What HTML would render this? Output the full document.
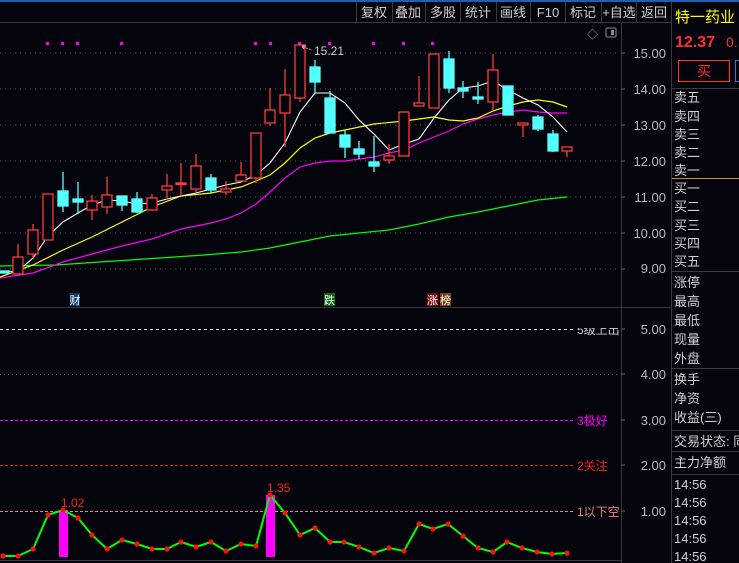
<!DOCTYPE html>
<html><head><meta charset="utf-8"><style>
html,body{margin:0;padding:0;background:#04040c;width:739px;height:563px;overflow:hidden}
svg{display:block}
text{font-family:"Liberation Sans","Noto Sans CJK SC",sans-serif}
</style></head><body>
<svg width="739" height="563" viewBox="0 0 739 563" xmlns="http://www.w3.org/2000/svg">
<rect width="739" height="563" fill="#04040c"/>
<rect x="0" y="0" width="739" height="2" fill="#1e5fb4"/>
<!-- toolbar -->
<g fill="none" stroke="#3a3a3a">
<line x1="0" y1="22.5" x2="672" y2="22.5"/>
<line x1="356.5" y1="2" x2="356.5" y2="22"/>
<line x1="392.5" y1="2" x2="392.5" y2="22"/><line x1="425.5" y1="2" x2="425.5" y2="22"/>
<line x1="460.5" y1="2" x2="460.5" y2="22"/><line x1="496.5" y1="2" x2="496.5" y2="22"/>
<line x1="530.5" y1="2" x2="530.5" y2="22"/><line x1="565.5" y1="2" x2="565.5" y2="22"/>
<line x1="601.5" y1="2" x2="601.5" y2="22"/><line x1="636.5" y1="2" x2="636.5" y2="22"/>
<line x1="671.5" y1="2" x2="671.5" y2="563"/>
<line x1="621.5" y1="22" x2="621.5" y2="563"/>
<line x1="0" y1="307.5" x2="672" y2="307.5"/>
<line x1="0" y1="560.5" x2="621" y2="560.5"/>
</g>
<g fill="#cfcfcf" font-size="13" text-anchor="middle">
<text x="374" y="17">复权</text><text x="408" y="17">叠加</text><text x="443" y="17">多股</text>
<text x="478" y="17">统计</text><text x="513" y="17">画线</text><text x="548" y="17">F10</text>
<text x="583" y="17">标记</text><text x="619" y="17">+自选</text><text x="654" y="17">返回</text>
</g>
<text x="587" y="38" fill="#aaa" font-size="11">◇</text>
<rect x="606" y="28" width="10" height="9" fill="none" stroke="#888" rx="1"/><rect x="611" y="30" width="3" height="5" fill="#888"/>
<!-- grid -->
<g stroke="#555" stroke-dasharray="1,4">
<line x1="0" y1="53" x2="620" y2="53"/><line x1="0" y1="89" x2="620" y2="89"/>
<line x1="0" y1="125" x2="620" y2="125"/><line x1="0" y1="161" x2="620" y2="161"/>
<line x1="0" y1="197" x2="620" y2="197"/><line x1="0" y1="233" x2="620" y2="233"/>
<line x1="0" y1="269" x2="620" y2="269"/>
</g>
<g stroke="#666"><line x1="621" y1="53" x2="625" y2="53"/><line x1="621" y1="89" x2="625" y2="89"/><line x1="621" y1="125" x2="625" y2="125"/><line x1="621" y1="161" x2="625" y2="161"/><line x1="621" y1="197" x2="625" y2="197"/><line x1="621" y1="233" x2="625" y2="233"/><line x1="621" y1="269" x2="625" y2="269"/></g>
<g fill="#b8b8c8" font-size="13" text-anchor="end">
<text x="666" y="58">15.00</text><text x="666" y="94">14.00</text><text x="666" y="130">13.00</text>
<text x="666" y="166">12.00</text><text x="666" y="202">11.00</text><text x="666" y="238">10.00</text>
<text x="666" y="273">9.00</text>
</g>
<!-- magenta dots -->
<g fill="#ff00ff">
<rect x="46" y="42" width="3" height="3"/><rect x="61" y="42" width="3" height="3"/><rect x="76" y="42" width="3" height="3"/>
<rect x="120" y="42" width="3" height="3"/><rect x="254" y="42" width="3" height="3"/><rect x="269" y="42" width="3" height="3"/>
<rect x="298" y="42" width="3" height="3"/><rect x="328" y="42" width="3" height="3"/><rect x="372" y="42" width="3" height="3"/>
<rect x="402" y="42" width="3" height="3"/><rect x="431" y="42" width="3" height="3"/>
</g>
<!-- MAs -->
<polyline fill="none" stroke="#00ff00" stroke-width="1.2" points="0,266 56,265 100,262 130,260 175,257 204,255 241,252 270,248 300,242 330,236 359,233 389,230 419,224 449,217 478,212 508,206 538,200 567,197"/>
<polyline fill="none" stroke="#ff00ff" stroke-width="1.2" points="0,278 33,273 63,262 92,254 122,246 152,239 181,229 211,223 226,219 241,213 256,204 270,192 285,178 300,167 315,163 330,161 345,161 374,157 389,153 404,150 419,143 434,137 449,131 463,124 478,119 493,115 508,112 523,110 538,112 553,113 567,113"/>
<polyline fill="none" stroke="#ffff00" stroke-width="1.2" points="0,277 33,265 63,250 92,237 122,222 152,207 181,196 211,193 241,187 256,181 270,175 285,163 300,148 315,138 330,133 345,130 374,124 404,121 419,119 434,117 449,120 463,121 478,118 493,111 508,106 523,102 538,100 553,102 567,107"/>
<polyline fill="none" stroke="#ffffff" stroke-width="1.1" points="0,272 18,271 33,258 48,236 63,222 78,213 92,205 107,200 122,201 137,204 152,203 167,199 181,196 196,193 211,189 226,185 241,182 256,175 270,163 285,143 300,112 315,93 330,93 345,103 359,120 374,134 389,150 404,144 419,139 434,118 449,100 463,88 478,86 493,81 508,90 523,98 538,105 553,117 567,132"/>
<!-- candles -->
<g stroke-width="1.3">
<g stroke="#ff3b3b" fill="#04040c">
<line x1="18" y1="244" x2="18" y2="257"/><rect x="13" y="257" width="10" height="17"/>
<line x1="33" y1="224" x2="33" y2="230"/><line x1="33" y1="254" x2="33" y2="258"/><rect x="28" y="230" width="10" height="24"/>
<rect x="43" y="194" width="10" height="46"/>
<line x1="92" y1="195" x2="92" y2="201"/><line x1="92" y1="210" x2="92" y2="220"/><rect x="87" y="201" width="10" height="9"/>
<line x1="107" y1="177" x2="107" y2="195"/><line x1="107" y1="207" x2="107" y2="214"/><rect x="102" y="195" width="10" height="12"/>
<line x1="152" y1="194" x2="152" y2="198"/><line x1="152" y1="210" x2="152" y2="211"/><rect x="147" y="198" width="10" height="12"/>
<line x1="167" y1="174" x2="167" y2="186"/><line x1="167" y1="190" x2="167" y2="200"/><rect x="162" y="186" width="10" height="4"/>
<line x1="181" y1="163" x2="181" y2="196"/><rect x="176" y="183" width="10" height="1.5" fill="#ff3b3b"/>
<line x1="196" y1="154" x2="196" y2="166"/><line x1="196" y1="189" x2="196" y2="192"/><rect x="191" y="166" width="10" height="23"/>
<line x1="226" y1="181" x2="226" y2="189"/><line x1="226" y1="192" x2="226" y2="195"/><rect x="221" y="189" width="10" height="3"/>
<line x1="241" y1="162" x2="241" y2="175"/><rect x="236" y="175" width="10" height="6"/>
<line x1="256" y1="178" x2="256" y2="183"/><rect x="251" y="133" width="10" height="45"/>
<line x1="270" y1="88" x2="270" y2="110"/><line x1="270" y1="123" x2="270" y2="126"/><rect x="265" y="110" width="10" height="13"/>
<line x1="285" y1="69" x2="285" y2="95"/><line x1="285" y1="113" x2="285" y2="147"/><rect x="280" y="95" width="10" height="18"/>
<line x1="300" y1="98" x2="300" y2="102"/><rect x="295" y="45" width="10" height="53"/>
<line x1="389" y1="144" x2="389" y2="156"/><line x1="389" y1="160" x2="389" y2="164"/><rect x="384" y="156" width="10" height="4"/>
<rect x="399" y="112" width="10" height="44"/>
<line x1="419" y1="76" x2="419" y2="103"/><rect x="414" y="103" width="10" height="3"/>
<rect x="429" y="54" width="10" height="54"/>
<line x1="493" y1="54" x2="493" y2="70"/><line x1="493" y1="102" x2="493" y2="110"/><rect x="488" y="70" width="10" height="32"/>
<line x1="523" y1="125" x2="523" y2="137"/><rect x="518" y="123" width="10" height="2"/>
<line x1="567" y1="151" x2="567" y2="157"/><rect x="562" y="147" width="10" height="4"/>
</g>
<g stroke="#54ffff" fill="#54ffff">
<rect x="-1" y="271" width="10" height="2"/>
<line x1="63" y1="172" x2="63" y2="212"/><rect x="58" y="191" width="10" height="15"/>
<line x1="78" y1="182" x2="78" y2="214"/><rect x="73" y="199" width="10" height="3"/>
<line x1="122" y1="196" x2="122" y2="211"/><rect x="117" y="196" width="10" height="9"/>
<line x1="137" y1="192" x2="137" y2="213"/><rect x="132" y="199" width="10" height="13"/>
<line x1="211" y1="174" x2="211" y2="193"/><rect x="206" y="178" width="10" height="12"/>
<line x1="315" y1="60" x2="315" y2="93"/><rect x="310" y="67" width="10" height="15"/>
<line x1="330" y1="91" x2="330" y2="133"/><rect x="325" y="98" width="10" height="35"/>
<line x1="345" y1="130" x2="345" y2="158"/><rect x="340" y="135" width="10" height="12"/>
<line x1="359" y1="141" x2="359" y2="159"/><rect x="354" y="149" width="10" height="5"/>
<line x1="374" y1="136" x2="374" y2="172"/><rect x="369" y="162" width="10" height="4"/>
<line x1="449" y1="51" x2="449" y2="93"/><rect x="444" y="59" width="10" height="29"/>
<line x1="463" y1="81" x2="463" y2="98"/><rect x="458" y="88" width="10" height="3"/>
<line x1="478" y1="82" x2="478" y2="104"/><rect x="473" y="97" width="10" height="2"/>
<line x1="508" y1="86" x2="508" y2="115"/><rect x="503" y="86" width="10" height="29"/>
<line x1="538" y1="115" x2="538" y2="131"/><rect x="533" y="117" width="10" height="12"/>
<line x1="553" y1="130" x2="553" y2="152"/><rect x="548" y="134" width="10" height="17"/>
</g>
</g>
<path d="M302,46 l4,0 M302,46 l2,3" stroke="#ccc" fill="none"/>
<line x1="303" y1="47" x2="312" y2="50" stroke="#aaa" stroke-dasharray="2,1"/>
<text x="314" y="55" fill="#c8c8c8" font-size="12">15.21</text>
<!-- label row -->
<rect x="70" y="293" width="10" height="13" fill="#0c3a6e"/><text x="75" y="304" fill="#fff" font-size="11" text-anchor="middle">财</text>
<rect x="324" y="293" width="11" height="13" fill="#0a6a10"/><text x="329.5" y="304" fill="#fff" font-size="11" text-anchor="middle">跌</text>
<rect x="427" y="293" width="11" height="13" fill="#7a0a0a"/><text x="432.5" y="304" fill="#fff" font-size="11" text-anchor="middle">涨</text>
<rect x="440" y="293" width="11" height="13" fill="#7a4008"/><text x="445.5" y="304" fill="#fff" font-size="11" text-anchor="middle">榜</text>
<!-- lower panel -->
<line x1="0" y1="329.5" x2="575" y2="329.5" stroke="#ddd" stroke-dasharray="3,3"/>
<text x="577" y="334" fill="#ccc" font-size="12">5级上出</text>
<rect x="575" y="318" width="46" height="10" fill="#04040c"/>
<line x1="0" y1="374.5" x2="620" y2="374.5" stroke="#555" stroke-dasharray="1,3"/>
<line x1="0" y1="420.5" x2="575" y2="420.5" stroke="#ff00ff" stroke-dasharray="3,2"/>
<text x="577" y="425" fill="#ff00ff" font-size="12">3极好</text>
<line x1="0" y1="465.5" x2="575" y2="465.5" stroke="#e02020" stroke-dasharray="3,2"/>
<text x="577" y="470" fill="#ff2020" font-size="12">2关注</text>
<line x1="0" y1="511.5" x2="575" y2="511.5" stroke="#f08080" stroke-dasharray="3,2"/>
<text x="577" y="516" fill="#f08080" font-size="12">1以下空</text>
<g fill="#b8b8c8" font-size="13" text-anchor="end">
<text x="666" y="334">5.00</text><text x="666" y="379">4.00</text><text x="666" y="425">3.00</text>
<text x="666" y="470">2.00</text><text x="666" y="516">1.00</text>
</g>
<g stroke="#666"><line x1="621" y1="329" x2="625" y2="329"/><line x1="621" y1="374" x2="625" y2="374"/><line x1="621" y1="420" x2="625" y2="420"/><line x1="621" y1="465" x2="625" y2="465"/><line x1="621" y1="511" x2="625" y2="511"/></g>
<rect x="59" y="510" width="9" height="47" fill="#ff00ff"/>
<rect x="266" y="495" width="9" height="62" fill="#ff00ff"/>
<polyline fill="none" stroke="#00ff00" stroke-width="2" points="3,556 18,556 33,549 48,515 63,510 78,518 92,535 107,549 122,540 137,544 152,549 167,549 181,542 196,547 211,542 226,551 241,544 256,546 270,495 285,513 300,535 315,528 330,542 344,542 359,547 374,553 389,548 404,551 419,524 433,529 448,524 463,536 478,548 493,552 507,542 522,548 537,552 552,554 567,553"/>
<g fill="#ff1010">
<circle cx="3" cy="556" r="2.6"/><circle cx="18" cy="556" r="2.6"/><circle cx="33" cy="549" r="2.6"/><circle cx="48" cy="515" r="2.6"/><circle cx="63" cy="510" r="2.6"/><circle cx="78" cy="518" r="2.6"/><circle cx="92" cy="535" r="2.6"/><circle cx="107" cy="549" r="2.6"/><circle cx="122" cy="540" r="2.6"/><circle cx="137" cy="544" r="2.6"/><circle cx="152" cy="549" r="2.6"/><circle cx="167" cy="549" r="2.6"/><circle cx="181" cy="542" r="2.6"/><circle cx="196" cy="547" r="2.6"/><circle cx="211" cy="542" r="2.6"/><circle cx="226" cy="551" r="2.6"/><circle cx="241" cy="544" r="2.6"/><circle cx="256" cy="546" r="2.6"/><circle cx="270" cy="495" r="2.6"/><circle cx="285" cy="513" r="2.6"/><circle cx="300" cy="535" r="2.6"/><circle cx="315" cy="528" r="2.6"/><circle cx="330" cy="542" r="2.6"/><circle cx="344" cy="542" r="2.6"/><circle cx="359" cy="547" r="2.6"/><circle cx="374" cy="553" r="2.6"/><circle cx="389" cy="548" r="2.6"/><circle cx="404" cy="551" r="2.6"/><circle cx="419" cy="524" r="2.6"/><circle cx="433" cy="529" r="2.6"/><circle cx="448" cy="524" r="2.6"/><circle cx="463" cy="536" r="2.6"/><circle cx="478" cy="548" r="2.6"/><circle cx="493" cy="552" r="2.6"/><circle cx="507" cy="542" r="2.6"/><circle cx="522" cy="548" r="2.6"/><circle cx="537" cy="552" r="2.6"/><circle cx="552" cy="554" r="2.6"/><circle cx="567" cy="553" r="2.6"/>
</g>
<text x="61" y="507" fill="#ff2020" font-size="12">1.02</text>
<text x="267" y="492" fill="#ff2020" font-size="12">1.35</text>
<!-- right panel -->
<text x="675" y="22" fill="#ffff00" font-size="15">特一药业</text>
<text x="675" y="47" fill="#ff3030" font-size="16" font-weight="bold">12.37</text>
<text x="726" y="47" fill="#ff3030" font-size="14">0.</text>
<rect x="678.5" y="60.5" width="51" height="21" fill="none" stroke="#ff3030"/>
<text x="704" y="76" fill="#ff3030" font-size="14" text-anchor="middle">买</text>
<rect x="735.5" y="60.5" width="8" height="21" fill="none" stroke="#2a7ad0"/>
<g stroke="#3a3a3a"><line x1="672" y1="88.5" x2="739" y2="88.5"/><line x1="672" y1="271.5" x2="739" y2="271.5"/><line x1="672" y1="368.5" x2="739" y2="368.5"/><line x1="672" y1="430.5" x2="739" y2="430.5"/><line x1="672" y1="451.5" x2="739" y2="451.5"/><line x1="672" y1="474.5" x2="739" y2="474.5"/></g>
<line x1="672" y1="178.5" x2="739" y2="178.5" stroke="#e08a20"/>
<g fill="#d0d0d0" font-size="13">
<text x="674" y="102">卖五</text><text x="674" y="121">卖四</text><text x="674" y="139">卖三</text><text x="674" y="157">卖二</text><text x="674" y="175">卖一</text>
<text x="674" y="193">买一</text><text x="674" y="211">买二</text><text x="674" y="230">买三</text><text x="674" y="248">买四</text><text x="674" y="266">买五</text>
<text x="674" y="287">涨停</text><text x="674" y="306">最高</text><text x="674" y="325">最低</text><text x="674" y="344">现量</text><text x="674" y="363">外盘</text>
<text x="674" y="384">换手</text><text x="674" y="403">净资</text><text x="674" y="422">收益(三)</text>
<text x="674" y="446">交易状态: 同</text><text x="674" y="467">主力净额</text>
<text x="674" y="489">14:56</text><text x="674" y="507">14:56</text><text x="674" y="525">14:56</text><text x="674" y="543">14:56</text><text x="674" y="561">14:56</text>
</g>
</svg>
</body></html>
